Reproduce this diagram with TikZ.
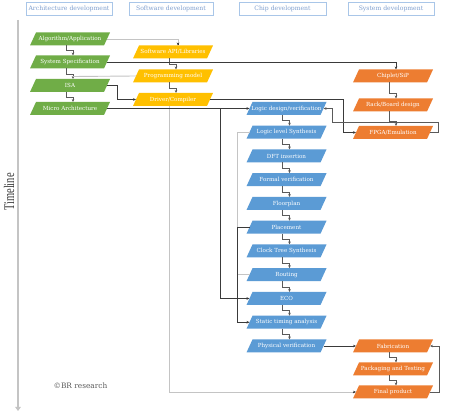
\documentclass[tikz,border=0pt]{standalone}
\usepackage{fontspec}
\setmainfont{DejaVu Serif}
\newfontfamily\tlfont{Liberation Serif}
\usetikzlibrary{arrows.meta,calc,shadows}
\definecolor{cgreen}{HTML}{70AD47}
\definecolor{cyellow}{HTML}{FFC000}
\definecolor{corange}{HTML}{ED7D31}
\definecolor{cblue}{HTML}{5B9BD5}
\definecolor{lgray}{HTML}{C4C4C4}
\definecolor{dgray}{HTML}{3A3A3A}
\definecolor{mgray}{HTML}{5A5A5A}
\definecolor{hdrtext}{HTML}{7F9FCF}
\definecolor{hdrline}{HTML}{A9C6E8}
\tikzset{
  ptext/.style={rectangle, minimum width=74pt, minimum height=13pt, inner sep=0pt, outer sep=0pt,
    text=white, font=\fontsize{5.6}{6.5}\selectfont},
  hdr/.style={rectangle, draw=hdrline, line width=0.6pt, fill=white, minimum height=13pt,
    inner sep=0pt, text=hdrtext, font=\fontsize{6.1}{7}\selectfont,
    drop shadow={shadow xshift=0.8pt, shadow yshift=-0.8pt, opacity=0.35}},
  arr/.style={-{Stealth[length=3pt,width=2.6pt]}},
  darkline/.style={draw=dgray, line width=0.6pt, arr},
  lightline/.style={draw=lgray, line width=0.9pt},
  stepline/.style={draw=mgray, line width=0.55pt, arr},
}
\newcommand\pnode[5]{%
  \fill[#4] (#2-40,#3+6.5) -- (#2+34,#3+6.5) -- (#2+40,#3-6.5) -- (#2-34,#3-6.5) -- cycle;
  \node[ptext] (#1) at (#2,#3) {#5};}
\newcommand\stepc[2]{%
  \draw[stepline] ($(#1.south)+(-4,0)$) |- ($(#2.north)+(3,-5)$) -- ($(#2.north)+(3,0)$);}
\begin{document}
\begin{tikzpicture}[x=1pt,y=-1pt]
\useasboundingbox[fill=white] (0,0) rectangle (451,414);
% headers
\node[hdr, minimum width=86pt] (h1) at (69,8.5) {Architecture development};
\node[hdr, minimum width=84pt] (h2) at (171,8.5) {Software development};
\node[hdr, minimum width=87pt] (h3) at (282.5,8.5) {Chip development};
\node[hdr, minimum width=86pt] (h4) at (391,8.5) {System development};
% timeline
\coordinate (tl0) at (18,20);
\coordinate (tl1) at (18,411);
\draw[line width=2pt, lgray, -{Triangle[length=4pt,width=5.5pt]}] (tl0) -- (tl1);
\node[rotate=90, text=dgray] (tl) at (9,192) {\tlfont\fontsize{10.5}{12}\selectfont\scalebox{1}[1.4]{Timeline}};
\node[text=mgray, font=\fontsize{7.4}{8}\selectfont] (cr) at (80.5,386) {\textcopyright BR research};
% architecture
\pnode{alg}{70}{39}{cgreen}{Algorithm/Application}
\pnode{sys}{70}{62}{cgreen}{System Specification}
\pnode{isa}{70}{85.5}{cgreen}{ISA}
\pnode{micro}{70}{108.5}{cgreen}{Micro Architecture}
% software
\pnode{swapi}{173}{52}{cyellow}{Software API/Libraries}
\pnode{prog}{173}{76}{cyellow}{Programming model}
\pnode{driver}{173}{99.5}{cyellow}{Driver/Compiler}
% system
\pnode{chiplet}{393}{76}{corange}{Chiplet/SiP}
\pnode{rack}{393}{105}{corange}{Rack/Board design}
\pnode{fpga}{393}{132.5}{corange}{FPGA/Emulation}
\pnode{fab}{393}{346}{corange}{Fabrication}
\pnode{pack}{393}{369}{corange}{Packaging and Testing}
\pnode{final}{393}{392}{corange}{Final product}
% chip
\pnode{logic}{286.5}{108.5}{cblue}{Logic design/verification}
\pnode{lls}{286.5}{132.25}{cblue}{Logic level Synthesis}
\pnode{dft}{286.5}{156}{cblue}{DFT insertion}
\pnode{formal}{286.5}{179.75}{cblue}{Formal verification}
\pnode{floor}{286.5}{203.5}{cblue}{Floorplan}
\pnode{place}{286.5}{227.25}{cblue}{Placement}
\pnode{cts}{286.5}{251}{cblue}{Clock Tree Synthesis}
\pnode{route}{286.5}{274.75}{cblue}{Routing}
\pnode{eco}{286.5}{298.5}{cblue}{ECO}
\pnode{sta}{286.5}{322.25}{cblue}{Static timing analysis}
\pnode{pv}{286.5}{346}{cblue}{Physical verification}
% junction coordinates
\coordinate (j1) at (220,0);
\coordinate (j2) at (343,0);
\coordinate (j3) at (332,122.5);
\coordinate (j4) at (237,0);
% step connectors
\stepc{alg}{sys}
\stepc{sys}{isa}
\stepc{isa}{micro}
\stepc{swapi}{prog}
\stepc{prog}{driver}
\stepc{chiplet}{rack}
\stepc{rack}{fpga}
\stepc{fab}{pack}
\stepc{pack}{final}
\stepc{logic}{lls}
\stepc{lls}{dft}
\stepc{dft}{formal}
\stepc{formal}{floor}
\stepc{floor}{place}
\stepc{place}{cts}
\stepc{cts}{route}
\stepc{route}{eco}
\stepc{eco}{sta}
\stepc{sta}{pv}
% light connectors
\draw[lightline] (alg.east) -| ($(swapi.north)+(5,-1)$);
\draw[darkline] ($(swapi.north)+(5,-1.5)$) -- ($(swapi.north)+(5,0)$);
\draw[lightline] ($(sys.south)+(3,8)$) -- (prog.west);
\draw[lightline] ($(driver.south)+(-4,0)$) |- ($(final.west)+(-3,0)$);
\draw[darkline] ($(final.west)+(-3.5,0)$) -- (final.west);
\draw[lightline] (lls.west) -- (lls.west -| j4) -- (place.west -| j4);
\draw[lightline] (route.west) -- (route.west -| j4);
% dark connectors
\draw[darkline] (sys.east) -| ($(chiplet.north)+(3,0)$);
\draw[darkline] (isa.east) -- ++(10,0) |- (driver.west);
\draw[darkline] (micro.east) -- (logic.west);
\draw[darkline] (micro.east -| j1) |- (eco.west);
\draw[darkline] (driver.east) -- (driver.east -| j2) |- (fpga.west);
\draw[darkline, draw=mgray] (fpga.east) -- ++(8,0) |- (j3) |- (logic.east);
\draw[darkline] (place.west) -- (place.west -| j4) |- (sta.west);
\draw[darkline] (pv.east) -- (fab.west);
\draw[darkline, draw=mgray] (final.east) -- ++(9,0) |- (fab.east);
\end{tikzpicture}
\end{document}
